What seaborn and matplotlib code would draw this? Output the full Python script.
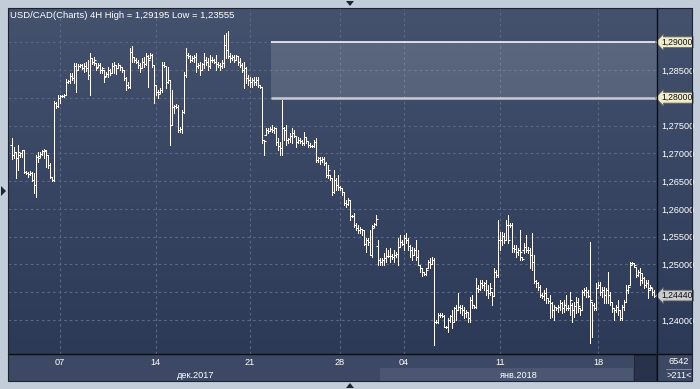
import numpy as np
import pandas as pd
import matplotlib
matplotlib.use("Agg")
import matplotlib.pyplot as plt
import seaborn as sns
from matplotlib.colors import LinearSegmentedColormap
from matplotlib.patches import Rectangle, Polygon
from matplotlib.lines import Line2D
from matplotlib.markers import TICKLEFT, TICKRIGHT
from matplotlib.transforms import blended_transform_factory

# ---------------- data (USD/CAD, 4H bars) ----------------
opens = [
    1.2715,1.2697,1.2702,1.2692,1.2697,1.2701,1.2706,1.2666,1.2665,1.2663,
    1.2665,1.2652,1.2643,1.2693,1.2695,1.2699,1.2704,1.2704,1.2697,1.2679,
    1.2657,1.2652,1.2791,1.2785,1.2800,1.2803,1.2803,1.2805,1.2828,1.2830,
    1.2839,1.2836,1.2857,1.2850,1.2857,1.2859,1.2854,1.2857,1.2854,1.2841,
    1.2872,1.2864,1.2863,1.2855,1.2859,1.2850,1.2850,1.2839,1.2843,1.2850,
    1.2845,1.2857,1.2859,1.2854,1.2859,1.2855,1.2850,1.2836,1.2823,1.2819,
    1.2882,1.2873,1.2868,1.2864,1.2859,1.2854,1.2864,1.2861,1.2875,1.2872,
    1.2877,1.2859,1.2823,1.2810,1.2810,1.2814,1.2859,1.2857,1.2828,1.2832,
    1.2751,1.2783,1.2785,1.2783,1.2742,1.2744,1.2774,1.2841,1.2877,1.2875,
    1.2868,1.2872,1.2873,1.2857,1.2859,1.2850,1.2861,1.2868,1.2864,1.2857,
    1.2868,1.2868,1.2864,1.2861,1.2859,1.2857,1.2863,1.2895,1.2886,1.2875,
    1.2872,1.2873,1.2868,1.2875,1.2864,1.2859,1.2850,1.2854,1.2836,1.2832,
    1.2828,1.2832,1.2828,1.2832,1.2823,1.2819,1.2724,1.2733,1.2742,1.2740,
    1.2744,1.2742,1.2746,1.2720,1.2713,1.2710,1.2746,1.2742,1.2724,1.2726,
    1.2731,1.2737,1.2731,1.2720,1.2724,1.2722,1.2719,1.2729,1.2722,1.2715,
    1.2713,1.2713,1.2720,1.2688,1.2692,1.2688,1.2690,1.2683,1.2661,1.2661,
    1.2656,1.2630,1.2652,1.2643,1.2639,1.2638,1.2630,1.2611,1.2609,1.2616,
    1.2587,1.2587,1.2571,1.2566,1.2562,1.2564,1.2562,1.2537,1.2544,1.2540,
    1.2517,1.2569,1.2573,1.2533,1.2508,1.2504,1.2508,1.2512,1.2515,1.2515,
    1.2515,1.2513,1.2517,1.2519,1.2531,1.2540,1.2537,1.2548,1.2544,1.2533,
    1.2526,1.2517,1.2526,1.2513,1.2499,1.2494,1.2486,1.2483,1.2494,1.2504,
    1.2501,1.2508,1.2396,1.2396,1.2409,1.2409,1.2407,1.2387,1.2387,1.2400,
    1.2407,1.2396,1.2422,1.2418,1.2423,1.2422,1.2418,1.2413,1.2414,1.2404,
    1.2436,1.2427,1.2423,1.2458,1.2456,1.2467,1.2463,1.2467,1.2454,1.2449,
    1.2450,1.2443,1.2486,1.2481,1.2544,1.2544,1.2551,1.2544,1.2571,1.2571,
    1.2571,1.2530,1.2528,1.2522,1.2526,1.2513,1.2526,1.2531,1.2526,1.2526,
    1.2517,1.2504,1.2470,1.2467,1.2459,1.2445,1.2443,1.2449,1.2440,1.2434,
    1.2431,1.2418,1.2423,1.2422,1.2423,1.2431,1.2422,1.2427,1.2422,1.2422,
    1.2427,1.2418,1.2425,1.2432,1.2422,1.2418,1.2450,1.2454,1.2450,1.2443,
    1.2432,1.2427,1.2422,1.2458,1.2463,1.2450,1.2454,1.2445,1.2454,1.2445,
    1.2432,1.2422,1.2418,1.2423,1.2418,1.2404,1.2423,1.2432,1.2454,1.2463,
    1.2503,1.2503,1.2495,1.2481,1.2486,1.2485,1.2476,1.2463,1.2467,1.2458,
    1.2458,1.2450,
]
highs = [
    1.2728,1.2711,1.2702,1.2715,1.2701,1.2706,1.2706,1.2668,1.2666,1.2668,
    1.2666,1.2665,1.2697,1.2702,1.2702,1.2706,1.2708,1.2706,1.2697,1.2683,
    1.2657,1.2794,1.2792,1.2805,1.2805,1.2805,1.2807,1.2834,1.2832,1.2845,
    1.2845,1.2863,1.2863,1.2861,1.2861,1.2861,1.2863,1.2864,1.2868,1.2881,
    1.2872,1.2873,1.2863,1.2863,1.2863,1.2855,1.2850,1.2846,1.2855,1.2852,
    1.2863,1.2864,1.2859,1.2863,1.2859,1.2855,1.2850,1.2837,1.2828,1.2890,
    1.2893,1.2873,1.2872,1.2868,1.2863,1.2872,1.2873,1.2881,1.2877,1.2881,
    1.2879,1.2859,1.2823,1.2814,1.2818,1.2864,1.2864,1.2857,1.2855,1.2832,
    1.2814,1.2787,1.2789,1.2787,1.2747,1.2778,1.2846,1.2890,1.2881,1.2877,
    1.2875,1.2877,1.2881,1.2863,1.2864,1.2863,1.2881,1.2873,1.2872,1.2877,
    1.2873,1.2870,1.2877,1.2864,1.2863,1.2868,1.2913,1.2917,1.2920,1.2881,
    1.2877,1.2877,1.2877,1.2875,1.2872,1.2863,1.2864,1.2855,1.2841,1.2837,
    1.2836,1.2837,1.2837,1.2837,1.2823,1.2819,1.2724,1.2746,1.2746,1.2747,
    1.2751,1.2747,1.2746,1.2728,1.2720,1.2796,1.2747,1.2751,1.2728,1.2737,
    1.2746,1.2742,1.2731,1.2729,1.2728,1.2724,1.2738,1.2729,1.2722,1.2719,
    1.2715,1.2724,1.2728,1.2693,1.2693,1.2693,1.2693,1.2684,1.2679,1.2661,
    1.2656,1.2670,1.2656,1.2661,1.2641,1.2638,1.2630,1.2616,1.2620,1.2616,
    1.2589,1.2593,1.2575,1.2571,1.2567,1.2564,1.2562,1.2548,1.2548,1.2562,
    1.2571,1.2575,1.2589,1.2544,1.2512,1.2512,1.2521,1.2530,1.2526,1.2530,
    1.2519,1.2526,1.2522,1.2548,1.2553,1.2544,1.2553,1.2557,1.2548,1.2535,
    1.2531,1.2530,1.2544,1.2526,1.2499,1.2494,1.2486,1.2494,1.2508,1.2512,
    1.2513,1.2512,1.2400,1.2413,1.2413,1.2413,1.2409,1.2389,1.2404,1.2409,
    1.2418,1.2423,1.2427,1.2449,1.2427,1.2427,1.2423,1.2418,1.2414,1.2441,
    1.2445,1.2427,1.2476,1.2463,1.2472,1.2472,1.2468,1.2472,1.2463,1.2467,
    1.2450,1.2494,1.2490,1.2580,1.2558,1.2558,1.2557,1.2580,1.2589,1.2575,
    1.2575,1.2535,1.2535,1.2530,1.2562,1.2513,1.2539,1.2553,1.2531,1.2530,
    1.2557,1.2517,1.2472,1.2468,1.2463,1.2449,1.2454,1.2458,1.2440,1.2445,
    1.2432,1.2427,1.2423,1.2427,1.2436,1.2432,1.2436,1.2445,1.2427,1.2450,
    1.2431,1.2432,1.2441,1.2440,1.2422,1.2454,1.2458,1.2459,1.2454,1.2540,
    1.2432,1.2431,1.2467,1.2468,1.2468,1.2459,1.2459,1.2458,1.2486,1.2450,
    1.2432,1.2422,1.2427,1.2436,1.2418,1.2427,1.2436,1.2463,1.2463,1.2504,
    1.2504,1.2503,1.2495,1.2490,1.2494,1.2485,1.2477,1.2472,1.2472,1.2463,
    1.2458,1.2454,
]
lows = [
    1.2690,1.2692,1.2656,1.2670,1.2693,1.2693,1.2665,1.2663,1.2657,1.2661,
    1.2650,1.2629,1.2621,1.2684,1.2693,1.2697,1.2692,1.2675,1.2674,1.2656,
    1.2650,1.2650,1.2782,1.2783,1.2791,1.2801,1.2801,1.2805,1.2827,1.2827,
    1.2832,1.2827,1.2810,1.2850,1.2855,1.2852,1.2846,1.2848,1.2834,1.2805,
    1.2861,1.2859,1.2850,1.2855,1.2845,1.2845,1.2828,1.2839,1.2837,1.2841,
    1.2845,1.2845,1.2843,1.2854,1.2850,1.2846,1.2832,1.2814,1.2818,1.2818,
    1.2864,1.2864,1.2863,1.2854,1.2846,1.2854,1.2855,1.2859,1.2819,1.2872,
    1.2855,1.2791,1.2805,1.2800,1.2809,1.2810,1.2855,1.2818,1.2827,1.2715,
    1.2751,1.2773,1.2782,1.2738,1.2738,1.2737,1.2773,1.2837,1.2872,1.2864,
    1.2866,1.2864,1.2846,1.2854,1.2841,1.2850,1.2854,1.2859,1.2850,1.2854,
    1.2864,1.2863,1.2850,1.2855,1.2850,1.2854,1.2855,1.2872,1.2872,1.2864,
    1.2868,1.2864,1.2868,1.2859,1.2855,1.2846,1.2818,1.2827,1.2823,1.2819,
    1.2819,1.2823,1.2823,1.2819,1.2818,1.2719,1.2697,1.2733,1.2737,1.2740,
    1.2738,1.2737,1.2715,1.2706,1.2697,1.2697,1.2724,1.2715,1.2719,1.2720,
    1.2719,1.2729,1.2711,1.2719,1.2719,1.2715,1.2715,1.2719,1.2711,1.2711,
    1.2711,1.2711,1.2684,1.2684,1.2681,1.2684,1.2679,1.2657,1.2656,1.2652,
    1.2625,1.2629,1.2634,1.2634,1.2634,1.2625,1.2607,1.2603,1.2607,1.2580,
    1.2585,1.2567,1.2562,1.2557,1.2557,1.2553,1.2535,1.2522,1.2535,1.2517,
    1.2513,1.2567,1.2571,1.2499,1.2499,1.2499,1.2499,1.2504,1.2513,1.2504,
    1.2510,1.2504,1.2513,1.2499,1.2531,1.2535,1.2526,1.2539,1.2526,1.2513,
    1.2508,1.2517,1.2508,1.2499,1.2486,1.2479,1.2481,1.2481,1.2494,1.2494,
    1.2501,1.2355,1.2395,1.2395,1.2405,1.2405,1.2387,1.2386,1.2378,1.2396,
    1.2386,1.2396,1.2400,1.2418,1.2413,1.2409,1.2404,1.2405,1.2396,1.2396,
    1.2422,1.2422,1.2422,1.2450,1.2454,1.2458,1.2454,1.2445,1.2440,1.2445,
    1.2427,1.2443,1.2477,1.2477,1.2526,1.2535,1.2539,1.2544,1.2539,1.2567,
    1.2522,1.2522,1.2513,1.2517,1.2508,1.2508,1.2521,1.2522,1.2521,1.2494,
    1.2490,1.2467,1.2459,1.2454,1.2441,1.2440,1.2436,1.2431,1.2431,1.2404,
    1.2405,1.2400,1.2418,1.2414,1.2418,1.2413,1.2414,1.2418,1.2418,1.2409,
    1.2396,1.2405,1.2413,1.2414,1.2409,1.2418,1.2445,1.2441,1.2441,1.2359,
    1.2369,1.2418,1.2418,1.2458,1.2445,1.2441,1.2431,1.2431,1.2431,1.2427,
    1.2414,1.2400,1.2414,1.2409,1.2400,1.2400,1.2418,1.2432,1.2449,1.2463,
    1.2501,1.2495,1.2477,1.2479,1.2463,1.2467,1.2458,1.2459,1.2440,1.2454,
    1.2445,1.2441,
]
closes = [
    1.2697,1.2702,1.2692,1.2702,1.2701,1.2706,1.2666,1.2665,1.2663,1.2665,
    1.2652,1.2643,1.2693,1.2692,1.2699,1.2704,1.2706,1.2697,1.2679,1.2657,
    1.2652,1.2791,1.2785,1.2800,1.2803,1.2803,1.2805,1.2828,1.2830,1.2839,
    1.2836,1.2857,1.2850,1.2857,1.2859,1.2854,1.2857,1.2854,1.2841,1.2872,
    1.2864,1.2868,1.2854,1.2859,1.2850,1.2854,1.2837,1.2843,1.2850,1.2845,
    1.2857,1.2859,1.2854,1.2859,1.2855,1.2850,1.2836,1.2823,1.2819,1.2882,
    1.2873,1.2868,1.2864,1.2859,1.2854,1.2864,1.2861,1.2875,1.2868,1.2877,
    1.2859,1.2823,1.2810,1.2807,1.2814,1.2859,1.2857,1.2828,1.2832,1.2751,
    1.2783,1.2785,1.2783,1.2742,1.2744,1.2774,1.2841,1.2877,1.2875,1.2868,
    1.2872,1.2873,1.2857,1.2859,1.2850,1.2861,1.2868,1.2864,1.2857,1.2868,
    1.2868,1.2864,1.2861,1.2859,1.2857,1.2863,1.2895,1.2886,1.2875,1.2872,
    1.2873,1.2868,1.2875,1.2864,1.2859,1.2850,1.2854,1.2836,1.2832,1.2828,
    1.2832,1.2828,1.2832,1.2823,1.2819,1.2724,1.2722,1.2742,1.2740,1.2744,
    1.2742,1.2746,1.2720,1.2713,1.2710,1.2746,1.2742,1.2724,1.2726,1.2731,
    1.2737,1.2731,1.2720,1.2724,1.2722,1.2719,1.2729,1.2722,1.2715,1.2713,
    1.2713,1.2720,1.2688,1.2692,1.2688,1.2690,1.2683,1.2661,1.2670,1.2656,
    1.2630,1.2652,1.2643,1.2639,1.2638,1.2630,1.2611,1.2609,1.2616,1.2587,
    1.2587,1.2571,1.2566,1.2562,1.2564,1.2562,1.2537,1.2544,1.2540,1.2517,
    1.2566,1.2573,1.2582,1.2508,1.2504,1.2508,1.2512,1.2515,1.2515,1.2515,
    1.2513,1.2517,1.2519,1.2531,1.2540,1.2537,1.2548,1.2544,1.2533,1.2526,
    1.2517,1.2526,1.2513,1.2499,1.2494,1.2486,1.2483,1.2490,1.2504,1.2501,
    1.2508,1.2396,1.2396,1.2409,1.2409,1.2407,1.2387,1.2387,1.2400,1.2407,
    1.2396,1.2422,1.2418,1.2423,1.2422,1.2418,1.2413,1.2414,1.2404,1.2436,
    1.2427,1.2423,1.2458,1.2456,1.2467,1.2463,1.2467,1.2454,1.2449,1.2458,
    1.2443,1.2486,1.2481,1.2544,1.2544,1.2551,1.2544,1.2571,1.2544,1.2571,
    1.2530,1.2528,1.2522,1.2526,1.2522,1.2510,1.2531,1.2526,1.2526,1.2517,
    1.2504,1.2470,1.2467,1.2459,1.2445,1.2443,1.2449,1.2440,1.2434,1.2431,
    1.2418,1.2423,1.2422,1.2423,1.2431,1.2422,1.2427,1.2422,1.2422,1.2436,
    1.2418,1.2425,1.2432,1.2425,1.2418,1.2450,1.2454,1.2450,1.2443,1.2436,
    1.2427,1.2422,1.2458,1.2463,1.2450,1.2454,1.2445,1.2454,1.2445,1.2432,
    1.2422,1.2418,1.2423,1.2418,1.2404,1.2423,1.2432,1.2454,1.2459,1.2499,
    1.2503,1.2499,1.2481,1.2486,1.2472,1.2476,1.2463,1.2467,1.2454,1.2459,
    1.2450,1.2444,
]
assert len(opens) == len(highs) == len(lows) == len(closes), \
    (len(opens), len(highs), len(lows), len(closes))

day_labels = ["07", "14", "21", "28", "04", "11", "18"]
day_start_bar = [24, 72, 119, 164, 196, 244, 293]
month_labels = ["дек.2017", "янв.2018"]
price_ticks = [1.240, 1.245, 1.250, 1.255, 1.260, 1.265, 1.270,
               1.275, 1.280, 1.285, 1.290]
zone_low, zone_high = 1.280, 1.290
zone_start_bar = 129.5
last_price = 1.24440
title = "USD/CAD(Charts) 4H High = 1,29195 Low = 1,23555"
info_top, info_bottom = "6542", ">211<"

# ---------------- figure ----------------
W, H = 700, 389
sns.set_theme(style="dark")
plt.rcParams['font.family'] = ['Liberation Sans', 'DejaVu Sans']

fig = plt.figure(figsize=(W / 100, H / 100), dpi=100)
fig.patch.set_facecolor('#c3cdd9')


def box(x0, y0, x1, y1):
    return [x0 / W, 1 - y1 / H, (x1 - x0) / W, (y1 - y0) / H]


def fp(x, y):
    return (x / W, 1 - y / H)


bg_cmap = LinearSegmentedColormap.from_list('bg', ['#2c3957', '#45526e'])
grad = np.linspace(0, 1, 256).reshape(-1, 1)

# date-axis panel backgrounds (behind axes)
fig.patches.append(Rectangle(fp(8, 381), 684 / W, 27 / H, transform=fig.transFigure,
                             facecolor='#3d4964', edgecolor='none', zorder=-2))
fig.patches.append(Rectangle(fp(380, 381), 253 / W, 13 / H, transform=fig.transFigure,
                             facecolor='#4b5772', edgecolor='none', zorder=-1))
fig.patches.append(Rectangle(fp(634, 381), 22 / W, 26 / H, transform=fig.transFigure,
                             facecolor='#28324a', edgecolor='#1c2333', lw=0.6, zorder=-1))

# price axis panel
axp = fig.add_axes(box(657, 8, 692, 354))
axp.imshow(grad, aspect='auto', cmap=bg_cmap, origin='lower', extent=[0, 1, 0, 1])
axp.set_axis_off()

# main axes
ax = fig.add_axes(box(8, 8, 657, 354))
x0, x1 = -1.8, len(closes) + 0.3
y0, y1 = 1.23388, 1.29616
ax.imshow(grad, aspect='auto', cmap=bg_cmap, origin='lower',
          extent=[x0, x1, y0, y1], zorder=0)

grid_kw = dict(color='#5a6783', lw=0.8, ls=(0, (2.5, 2.5)), zorder=1)
for p in price_ticks:
    ax.axhline(p, **grid_kw)
for b in day_start_bar:
    ax.axvline(b, **grid_kw)

# resistance zone
ax.fill_between([zone_start_bar, x1], zone_low, zone_high, color='white',
                alpha=0.13, lw=0, zorder=1.5)
ax.hlines(zone_high, zone_start_bar, x1, color='#f4f4f4', lw=1.2, zorder=2)
ax.hlines(zone_low, zone_start_bar, x1, color='#c9cbd0', lw=1.8, zorder=2)

# OHLC bars
idx = np.arange(len(closes))
df_hl = pd.DataFrame({'bar': np.repeat(idx, 2),
                      'price': np.column_stack([lows, highs]).ravel()})
sns.lineplot(data=df_hl, x='bar', y='price', units='bar', estimator=None,
             sort=False, color='white', lw=0.62, ax=ax, zorder=3, legend=False,
             antialiased=False)
df_oc = pd.DataFrame({'bar': idx, 'open': opens, 'close': closes})
sns.scatterplot(data=df_oc, x='bar', y='open', marker=TICKLEFT, s=3.2,
                color='white', linewidth=0.75, ax=ax, zorder=3, legend=False)
sns.scatterplot(data=df_oc, x='bar', y='close', marker=TICKRIGHT, s=3.2,
                color='white', linewidth=0.75, ax=ax, zorder=3, legend=False)

ax.set_xlim(x0, x1)
ax.set_ylim(y0, y1)
ax.set_xlabel('')
ax.set_ylabel('')
for s in ax.spines.values():
    s.set_visible(False)

# tick labels (levels under the boxed markers are left blank, as in the chart)
boxed = [zone_high, zone_low, round(last_price * 200) / 200]
ax.yaxis.tick_right()
ax.set_yticks(price_ticks)
ax.set_yticklabels(["" if any(abs(p - b) < 1e-9 for b in boxed)
                    else f"{p:.5f}".replace('.', ',') for p in price_ticks])
ax.tick_params(axis='y', length=0, pad=3, labelsize=6.6, labelcolor='white')
ax.set_xticks(day_start_bar)
ax.set_xticklabels(day_labels)
ax.tick_params(axis='x', length=0, pad=2.6, labelsize=6.6, labelcolor='white')

# boxed price labels
tr = blended_transform_factory(ax.transAxes, ax.transData)
lx = 1 + 4.0 / 649
for p, fc, ec in [(zone_high, '#efebcd', '#6d6a58'),
                  (zone_low, '#efebcd', '#6d6a58'),
                  (last_price, '#c9cbcf', '#5c5f66')]:
    ax.text(lx, p, f"{p:.5f}".replace('.', ','), transform=tr, clip_on=False,
            ha='left', va='center', fontsize=6.2, color='#111111', zorder=10,
            bbox=dict(boxstyle='larrow,pad=0.1', fc=fc, ec=ec, lw=0.6))

# month labels & info
fig.text(*fp(196, 375), month_labels[0], ha='center', va='center',
         fontsize=6.6, color='white')
fig.text(*fp(519, 375), month_labels[1], ha='center', va='center',
         fontsize=6.6, color='white')
fig.text(*fp(679, 362), info_top, ha='center', va='center', fontsize=6.6, color='white')
fig.text(*fp(679, 376), info_bottom, ha='center', va='center', fontsize=6.6, color='white')
fig.lines.append(Line2D([666 / W, 692 / W], [1 - 369 / H] * 2, transform=fig.transFigure,
                        color='#8c96a8', lw=0.6, zorder=5))

# title
fig.text(*fp(10, 15), title, ha='left', va='center', fontsize=6.8, color='white', zorder=6)

# separators and border
fig.lines.append(Line2D([657 / W] * 2, [1 - 8 / H, 1 - 381 / H], transform=fig.transFigure,
                        color='#0b0e14', lw=1.0, zorder=5))
fig.lines.append(Line2D([8 / W, 692 / W], [1 - 354 / H] * 2, transform=fig.transFigure,
                        color='#0b0e14', lw=1.0, zorder=5))
fig.patches.append(Rectangle(fp(8, 381), 684 / W, 373 / H, transform=fig.transFigure,
                             facecolor='none', edgecolor='#1b2232', lw=0.8, zorder=5))

# small navigation triangles
for pts in ([(346, 1), (354, 1), (350, 6)],
            [(346, 388), (354, 388), (350, 383)],
            [(1, 186), (1, 196), (6, 191)]):
    fig.patches.append(Polygon([fp(*q) for q in pts], closed=True,
                               transform=fig.transFigure, facecolor='#1d2433',
                               edgecolor='none', zorder=5))

fig.savefig('out.png', dpi=100, facecolor=fig.get_facecolor())
